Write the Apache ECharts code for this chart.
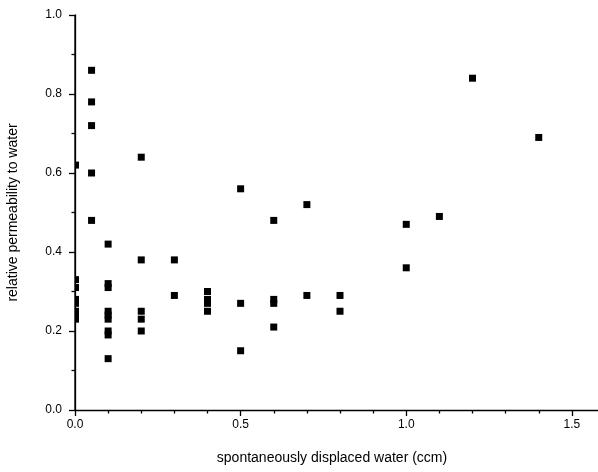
<!DOCTYPE html>
<html>
<head>
<meta charset="utf-8">
<script src="https://cdn.jsdelivr.net/npm/echarts@6/dist/echarts.min.js"></script>
<style>
  html, body {margin:0; padding:0; background:#fff;}
  #chart {width:598px; height:472px;}
</style>
</head>
<body>
<div id="chart"></div>
<script>
// displaced water (ccm) and relative permeability
const displaced = [
    0, 0, 0, 0, 0, 0, 0, 0,
    0.05, 0.05, 0.05, 0.05, 0.05,
    0.1, 0.1, 0.1, 0.1, 0.1, 0.1, 0.1, 0.1, 0.1,
    0.2, 0.2, 0.2, 0.2, 0.2,
    0.3, 0.3,
    0.4, 0.4, 0.4, 0.4,
    0.5, 0.5, 0.5,
    0.6, 0.6, 0.6, 0.6,
    0.7, 0.7,
    0.8, 0.8,
    1.0, 1.0,
    1.1,
    1.2,
    1.4
];
const permeability = [
    0.62, 0.33, 0.31, 0.28, 0.27, 0.25, 0.24, 0.23,
    0.86, 0.78, 0.72, 0.60, 0.48,
    0.42, 0.32, 0.31, 0.25, 0.24, 0.23, 0.20, 0.19, 0.13,
    0.64, 0.38, 0.25, 0.23, 0.20,
    0.38, 0.29,
    0.30, 0.28, 0.27, 0.25,
    0.56, 0.27, 0.15,
    0.48, 0.28, 0.27, 0.21,
    0.52, 0.29,
    0.29, 0.25,
    0.47, 0.36,
    0.49,
    0.84,
    0.69
];
const xTickLabels = ['0.0', '0.5', '1.0', '1.5'];
const yRange = [0, 1];
const xLabel = 'spontaneously displaced water (ccm)';
const yLabel = 'relative permeability to water';

// points sitting on x=0 are cut by the axis in the original, show the right half only
const points = displaced.map((x, i) => x === 0
    ? {value: [x, permeability[i]], symbolSize: [4, 7], symbolOffset: [2, 0]}
    : [x, permeability[i]]);

const chart = echarts.init(document.getElementById('chart'));
const font = 'Liberation Sans, Arial, sans-serif';
const axisCommon = {
    axisLine: {show: true, onZero: false, lineStyle: {color: '#000', width: 1.3}},
    axisTick: {show: true, inside: false, length: 6, lineStyle: {color: '#000', width: 1.3}},
    minorTick: {show: true, length: 3.5, lineStyle: {color: '#000', width: 1.3}},
    splitLine: {show: false},
    axisLabel: {color: '#000', fontFamily: font, fontSize: 12, formatter: v => v.toFixed(1)},
    nameTextStyle: {color: '#000', fontFamily: font, fontSize: 14}
};

chart.setOption({
    animation: false,
    backgroundColor: '#fff',
    grid: {left: 75, top: 15, bottom: 62, right: -7, containLabel: false, outerBoundsMode: 'none'},
    xAxis: Object.assign({}, axisCommon, {
        type: 'value', min: 0, max: 1.6, interval: 0.5,
        minorTick: Object.assign({}, axisCommon.minorTick, {splitNumber: 5}),
        axisLabel: Object.assign({}, axisCommon.axisLabel, {
            margin: 9,
            formatter: v => xTickLabels.indexOf(v.toFixed(1)) >= 0 && v <= 1.5 ? v.toFixed(1) : ''
        }),
        name: xLabel, nameLocation: 'middle', nameGap: 41,
        nameTextStyle: Object.assign({}, axisCommon.nameTextStyle, {padding: [0, 16, 0, 0]})
    }),
    yAxis: Object.assign({}, axisCommon, {
        type: 'value', min: 0, max: 1, interval: 0.2, position: 'left',
        minorTick: Object.assign({}, axisCommon.minorTick, {splitNumber: 2}),
        axisLabel: Object.assign({}, axisCommon.axisLabel, {margin: 13}),
        name: yLabel, nameLocation: 'middle', nameGap: 55, nameRotate: 90
    }),
    series: [{
        type: 'scatter',
        data: points,
        symbol: 'rect',
        symbolSize: 7,
        clip: false,
        itemStyle: {color: '#000', opacity: 1}
    }, {
        // y axis line along x = 0 (the axis itself does not draw it here)
        type: 'line',
        data: yRange.map(v => [0, v]),
        showSymbol: false,
        clip: false,
        silent: true,
        lineStyle: {color: '#000', width: 1.3},
        z: 5
    }]
});
</script>
</body>
</html>
